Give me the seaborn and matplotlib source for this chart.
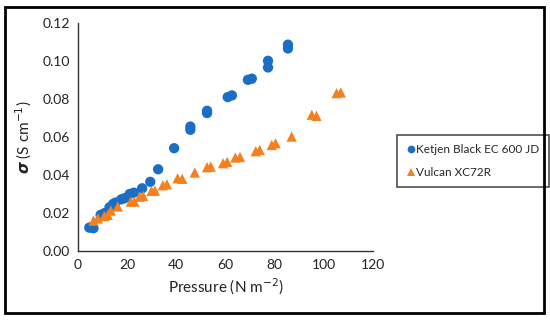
import matplotlib
matplotlib.use("Agg")
import matplotlib.pyplot as plt
import seaborn as sns
import pandas as pd
from matplotlib.patches import Rectangle

ketjen_x = [4.6, 6.3, 5.5, 9.2, 10.7, 12.8, 14.3, 15.3, 17.6, 19.0, 21.0, 22.7, 26.1, 29.4,
            32.6, 39.1, 45.7, 45.7, 52.5, 52.5, 60.9, 62.6, 69.1, 70.7, 77.3, 77.3, 85.4, 85.4]
ketjen_y = [0.0123, 0.0120, 0.0125, 0.0190, 0.0199, 0.0230, 0.0248, 0.0255, 0.0272, 0.0278,
            0.0300, 0.0307, 0.0330, 0.0364, 0.0430, 0.0541, 0.0655, 0.0638, 0.0738, 0.0726,
            0.0810, 0.0819, 0.0901, 0.0907, 0.1001, 0.0966, 0.1086, 0.1066]
vulcan_x = [6.3, 8.1, 10.7, 12.1, 13.3, 16.2, 21.5, 22.9, 25.1, 26.5, 29.9, 31.3, 34.5, 36.2,
            40.5, 42.4, 47.5, 52.5, 54.0, 59.0, 60.7, 64.0, 65.9, 72.3, 73.9, 78.8, 80.4,
            86.9, 95.1, 97.0, 105.2, 106.9]
vulcan_y = [0.0160, 0.0172, 0.0184, 0.0190, 0.0213, 0.0234, 0.0260, 0.0260, 0.0286, 0.0290,
            0.0316, 0.0318, 0.0346, 0.0351, 0.0383, 0.0380, 0.0413, 0.0441, 0.0444, 0.0462,
            0.0469, 0.0492, 0.0495, 0.0525, 0.0532, 0.0558, 0.0567, 0.0602, 0.0717, 0.0711,
            0.0831, 0.0834]
series_names = ["Ketjen Black EC 600 JD", "Vulcan XC72R"]
x_ticks = [0, 20, 40, 60, 80, 100, 120]
y_ticks = [0.00, 0.02, 0.04, 0.06, 0.08, 0.10, 0.12]

df = pd.concat([
    pd.DataFrame({"x": ketjen_x, "y": ketjen_y, "s": series_names[0]}),
    pd.DataFrame({"x": vulcan_x, "y": vulcan_y, "s": series_names[1]}),
])

sns.set_style("white")
plt.rcParams["font.family"] = ["Lato", "DejaVu Sans"]

fig = plt.figure(figsize=(5.5, 3.21), dpi=100)
ax = fig.add_axes([78/550, 1-251/321, (373-78)/550, (251-23)/321])

colors = {series_names[0]: "#1a6ec4", series_names[1]: "#f5801f"}
markers = {series_names[0]: "o", series_names[1]: "^"}
sns.scatterplot(data=df, x="x", y="y", hue="s", style="s", palette=colors, markers=markers,
                s=55, linewidth=0, ax=ax)

ax.set_xlim(0, 120)
ax.set_ylim(0, 0.12)
ax.set_xticks(x_ticks)
ax.set_yticks(y_ticks)
ax.set_yticklabels([f"{v:.2f}" for v in y_ticks])
for sp in ["top", "right"]:
    ax.spines[sp].set_visible(False)
for sp in ["left", "bottom"]:
    ax.spines[sp].set_color("#333333")
    ax.spines[sp].set_linewidth(1.0)
ax.tick_params(axis="both", direction="in", length=4, width=1, color="#333333",
               labelsize=10, labelcolor="#222222", pad=6)
ax.set_xlabel("Pressure (N m$^{-2}$)", fontsize=11, color="#222222", labelpad=4)
ax.set_ylabel(r"$\boldsymbol{\sigma}$ (S cm$^{-1}$)", fontsize=11, color="#222222", labelpad=6)

leg = ax.legend(loc="center left", bbox_to_anchor=(397/550, 1-161/321), bbox_transform=fig.transFigure,
                frameon=True, fancybox=False, edgecolor="#222222", fontsize=8.5,
                handletextpad=0.1, borderpad=0.75, borderaxespad=0, labelspacing=1.0,
                markerscale=0.75, handlelength=0.8)
leg.get_frame().set_linewidth(1.2)

fig.patches.append(Rectangle((5/550, 1-313/321), 539/550, 306/321, transform=fig.transFigure,
                             fill=False, edgecolor="black", linewidth=2))

fig.savefig("out.png", dpi=100)
